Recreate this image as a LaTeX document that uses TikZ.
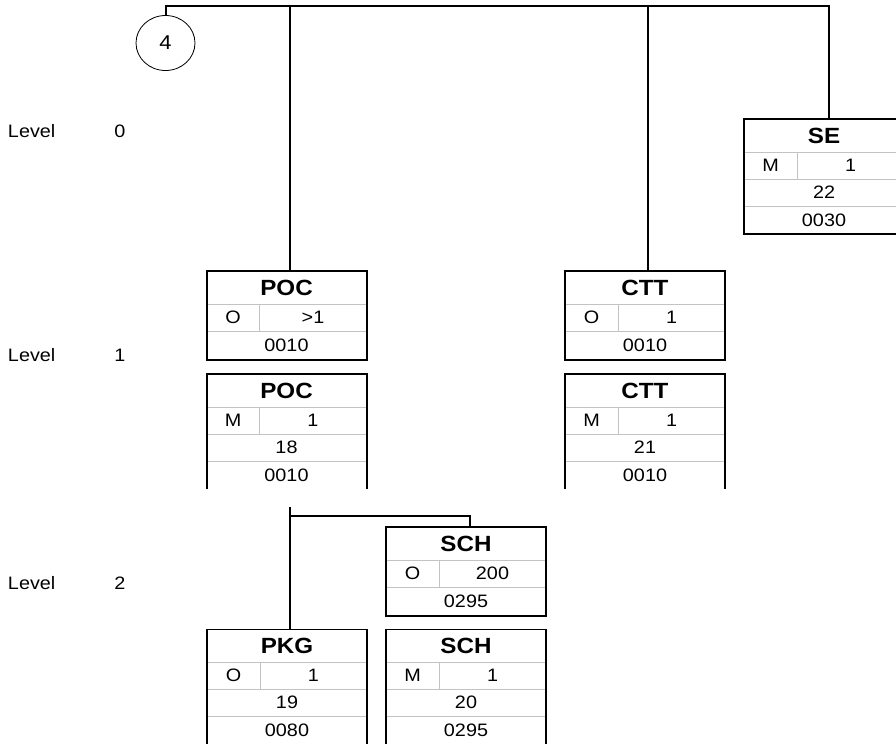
\documentclass[tikz,border=0pt]{standalone}
\usepackage{fontspec}
\setmainfont[FakeStretch=1.1]{Liberation Sans}
\usepackage{tikz}
\usetikzlibrary{positioning, shapes.geometric}
\definecolor{rowgray}{RGB}{195,195,195}

\begin{document}
\begin{tikzpicture}[
  x=1pt, y=-1pt,
  font=\fontsize{18}{20}\selectfont,
  every node/.style={inner sep=0pt, outer sep=0pt},
  ttl/.style={minimum width=160pt, minimum height=33pt,
    font=\fontsize{22}{25}\selectfont\bfseries},
  stat/.style={minimum width=53pt, minimum height=27pt},
  rep/.style={minimum width=107pt, minimum height=27pt},
  row/.style={minimum width=160pt, minimum height=27pt},
  lastrow/.style={row, minimum height=29pt},
  sep/.style={draw=rowgray, line width=1pt},
  frame/.style={draw, line width=2pt, line join=miter},
  opentop/.style={draw, line width=1pt},
  bus/.style={line width=2pt},
  lvl/.style={anchor=west}
]
\useasboundingbox (0,0) rectangle (896,745);

% level labels
\node[lvl] (l0) at (8,131) {Level};
\node (l0n) at (120,131) {0};
\node[lvl] (l1) at (8,355) {Level};
\node (l1n) at (120,355) {1};
\node[lvl] (l2) at (8,583) {Level};
\node (l2n) at (120,583) {2};

% level 0
\node[draw, ellipse, line width=0.8pt, minimum width=59pt, minimum height=55pt,
  font=\fontsize{20}{22}\selectfont] (c4) at (165.5,43) {4};
\coordinate (bus) at (165.5,6);

\node[ttl, anchor=north west] (se) at (744,119) {SE};
\node[stat, below right=0pt of se.south west] (se-s) {M};
\node[rep, right=0pt of se-s] (se-r) {1};
\node[row, below right=0pt of se-s.south west] (se-n) {22};
\node[row, minimum height=28pt, below=0pt of se-n] (se-p) {0030};
\draw[sep] (se.south west) -- (se.south east) (se-s.north east) -- (se-s.south east)
  (se-n.north west) -- (se-n.north east) (se-p.north west) -- (se-p.north east);
\draw[frame] (se.north west) rectangle (se-p.south east);

% level 1
\node[ttl, anchor=north west] (poc1) at (206.5,271) {POC};
\node[stat, below right=0pt of poc1.south west] (poc1-s) {O};
\node[rep, right=0pt of poc1-s] (poc1-r) {>1};
\node[lastrow, below right=0pt of poc1-s.south west] (poc1-p) {0010};
\draw[sep] (poc1.south west) -- (poc1.south east) (poc1-s.north east) -- (poc1-s.south east)
  (poc1-p.north west) -- (poc1-p.north east);
\draw[frame] (poc1.north west) rectangle (poc1-p.south east);

\node[ttl, anchor=north west] (poc2) at (206.5,374) {POC};
\node[stat, below right=0pt of poc2.south west] (poc2-s) {M};
\node[rep, right=0pt of poc2-s] (poc2-r) {1};
\node[row, below right=0pt of poc2-s.south west] (poc2-n) {18};
\node[row, minimum height=28pt, below=0pt of poc2-n] (poc2-p) {0010};
\draw[sep] (poc2.south west) -- (poc2.south east) (poc2-s.north east) -- (poc2-s.south east)
  (poc2-n.north west) -- (poc2-n.north east) (poc2-p.north west) -- (poc2-p.north east);
\draw[frame] (poc2-p.south west) -- (poc2.north west) -- (poc2.north east) -- (poc2-p.south east);

\node[ttl, anchor=north west] (ctt1) at (565,271) {CTT};
\node[stat, below right=0pt of ctt1.south west] (ctt1-s) {O};
\node[rep, right=0pt of ctt1-s] (ctt1-r) {1};
\node[lastrow, below right=0pt of ctt1-s.south west] (ctt1-p) {0010};
\draw[sep] (ctt1.south west) -- (ctt1.south east) (ctt1-s.north east) -- (ctt1-s.south east)
  (ctt1-p.north west) -- (ctt1-p.north east);
\draw[frame] (ctt1.north west) rectangle (ctt1-p.south east);

\node[ttl, anchor=north west] (ctt2) at (565,374) {CTT};
\node[stat, below right=0pt of ctt2.south west] (ctt2-s) {M};
\node[rep, right=0pt of ctt2-s] (ctt2-r) {1};
\node[row, below right=0pt of ctt2-s.south west] (ctt2-n) {21};
\node[row, minimum height=28pt, below=0pt of ctt2-n] (ctt2-p) {0010};
\draw[sep] (ctt2.south west) -- (ctt2.south east) (ctt2-s.north east) -- (ctt2-s.south east)
  (ctt2-n.north west) -- (ctt2-n.north east) (ctt2-p.north west) -- (ctt2-p.north east);
\draw[frame] (ctt2-p.south west) -- (ctt2.north west) -- (ctt2.north east) -- (ctt2-p.south east);

% level 2
\node[ttl, anchor=north west] (sch1) at (386,527) {SCH};
\node[stat, below right=0pt of sch1.south west] (sch1-s) {O};
\node[rep, right=0pt of sch1-s] (sch1-r) {200};
\node[lastrow, below right=0pt of sch1-s.south west] (sch1-p) {0295};
\draw[sep] (sch1.south west) -- (sch1.south east) (sch1-s.north east) -- (sch1-s.south east)
  (sch1-p.north west) -- (sch1-p.north east);
\draw[frame] (sch1.north west) rectangle (sch1-p.south east);

\node[ttl, anchor=north west] (pkg) at (207,629) {PKG};
\node[stat, below right=0pt of pkg.south west] (pkg-s) {O};
\node[rep, right=0pt of pkg-s] (pkg-r) {1};
\node[row, below right=0pt of pkg-s.south west] (pkg-n) {19};
\node[row, minimum height=28pt, below=0pt of pkg-n] (pkg-p) {0080};
\draw[sep] (pkg.south west) -- (pkg.south east) (pkg-s.north east) -- (pkg-s.south east)
  (pkg-n.north west) -- (pkg-n.north east) (pkg-p.north west) -- (pkg-p.north east);
\draw[opentop] (pkg.north west) -- (pkg.north east);
\draw[frame] (pkg.north west) -- (pkg-p.south west) (pkg.north east) -- (pkg-p.south east);

\node[ttl, anchor=north west] (sch2) at (386,629) {SCH};
\node[stat, below right=0pt of sch2.south west] (sch2-s) {M};
\node[rep, right=0pt of sch2-s] (sch2-r) {1};
\node[row, below right=0pt of sch2-s.south west] (sch2-n) {20};
\node[row, minimum height=28pt, below=0pt of sch2-n] (sch2-p) {0295};
\draw[sep] (sch2.south west) -- (sch2.south east) (sch2-s.north east) -- (sch2-s.south east)
  (sch2-n.north west) -- (sch2-n.north east) (sch2-p.north west) -- (sch2-p.north east);
\draw[opentop] (sch2.north west) -- (sch2.north east);
\draw[frame] (sch2.north west) -- (sch2-p.south west) (sch2.north east) -- (sch2-p.south east);

% connectors
\draw[bus] (c4.north) -- (bus) -| ([xshift=4.5pt]se.north);
\draw[bus] (bus) -| ([xshift=3.5pt]poc1.north);
\draw[bus] (bus) -| ([xshift=3pt]ctt1.north);
\coordinate (g2) at (290,507);
\coordinate (j2) at (290,516);
\draw[bus] (g2) -- ([xshift=3pt]pkg.north);
\draw[bus] (j2) -| ([xshift=4pt]sch1.north);
\end{tikzpicture}
\end{document}
